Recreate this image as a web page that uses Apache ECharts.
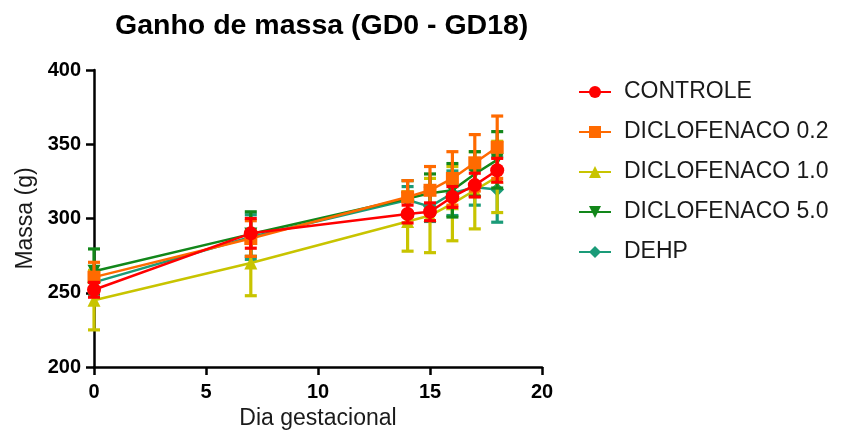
<!DOCTYPE html>
<html>
<head>
<meta charset="utf-8">
<script src="https://cdn.jsdelivr.net/npm/echarts@6/dist/echarts.min.js"></script>
<style>html,body{margin:0;padding:0;background:#fff}#c{width:842px;height:438px}</style>
</head>
<body>
<div id="c"></div>
<script>
const days = [0, 7, 14, 15, 16, 17, 18];
const seriesNames = ['CONTROLE', 'DICLOFENACO 0.2', 'DICLOFENACO 1.0', 'DICLOFENACO 5.0', 'DEHP'];
const controle = [252, 290, 303, 304.5, 314.5, 322.5, 332.5];
const controleSD = [5, 10, 6, 6, 7, 8, 8];
const diclo02 = [260.5, 286.5, 314.5, 319, 327, 337.5, 348];
const diclo02SD = [10, 12, 11, 16, 18, 19, 21];
const diclo10 = [245, 270, 298, 302, 310, 319, 328];
const diclo10SD = [20, 22, 20, 25, 25, 26, 24];
const diclo50 = [264.5, 289.5, 313.5, 317, 319, 330, 339.5];
const diclo50SD = [15, 15, 12, 13, 18, 15, 19];
const dehp = [257, 287.5, 312.5, 308, 317, 321, 319.5];
const dehpSD = [8, 15, 9, 10, 15, 12, 22];

const values = [controle, diclo02, diclo10, diclo50, dehp];
const sds = [controleSD, diclo02SD, diclo10SD, diclo50SD, dehpSD];
const colors = ['#ff0000', '#ff6a00', '#c8c400', '#12871a', '#1a9b78'];
const symbols = ['circle', 'rect', 'triangle', 'path://M0,0L2,0L1,1.732Z', 'diamond'];
const zs = [10, 9, 7, 8, 6];
const FONT = "'Liberation Sans', Arial, sans-serif";

const series = [];
seriesNames.forEach((name, k) => {
  series.push({
    name: name + ' err',
    type: 'custom',
    z: zs[k],
    data: days.map((d, i) => [d, values[k][i], sds[k][i]]),
    encode: { x: 0, y: 1 },
    renderItem: function (params, api) {
      const x = api.value(0), y = api.value(1), e = api.value(2);
      const t = api.coord([x, y + e]);
      const b = api.coord([x, y - e]);
      const hw = 6;
      const st = { stroke: colors[k], lineWidth: 3.2, fill: null };
      return {
        type: 'group',
        children: [
          { type: 'line', shape: { x1: t[0], y1: t[1], x2: b[0], y2: b[1] }, style: st },
          { type: 'line', shape: { x1: t[0] - hw, y1: t[1], x2: t[0] + hw, y2: t[1] }, style: st },
          { type: 'line', shape: { x1: b[0] - hw, y1: b[1], x2: b[0] + hw, y2: b[1] }, style: st }
        ]
      };
    }
  });
  series.push({
    name: name,
    type: 'line',
    z: zs[k] + 0.5,
    data: days.map((d, i) => [d, values[k][i]]),
    symbol: symbols[k],
    symbolSize: k === 0 ? 14 : (k === 4 ? 14 : 13),
    showSymbol: true,
    itemStyle: { color: colors[k] },
    lineStyle: { color: colors[k], width: 2.5 },
    emphasis: { disabled: true }
  });
});

const chart = echarts.init(document.getElementById('c'), null, { renderer: 'canvas' });
chart.setOption({
  animation: false,
  backgroundColor: '#ffffff',
  title: {
    text: 'Ganho de massa (GD0 - GD18)',
    left: 115, top: 12, padding: 0,
    textStyle: { fontFamily: FONT, fontSize: 28.5, fontWeight: 'bold', color: '#000' }
  },
  legend: {
    data: seriesNames,
    orient: 'vertical',
    left: 573, top: 75,
    itemWidth: 32, itemHeight: 15,
    itemGap: 16,
    textStyle: { fontFamily: FONT, fontSize: 23, color: '#1a1a1a', lineHeight: 24, padding: [0, 0, 0, 8] }
  },
  grid: { left: 94, right: 300, top: 70, bottom: 71, containLabel: false },
  xAxis: {
    type: 'value', min: 0, max: 20, interval: 5,
    name: 'Dia gestacional', nameLocation: 'middle', nameGap: 40,
    nameTextStyle: { fontFamily: FONT, fontSize: 23, color: '#1a1a1a' },
    axisLine: { show: true, lineStyle: { color: '#000', width: 2.5 } },
    axisTick: { show: true, length: 8, lineStyle: { color: '#000', width: 2.5 } },
    axisLabel: { fontFamily: FONT, fontSize: 20, fontWeight: 'bold', color: '#000', margin: 15 },
    splitLine: { show: false }
  },
  yAxis: {
    type: 'value', min: 200, max: 400, interval: 50,
    name: 'Massa (g)', nameLocation: 'middle', nameGap: 57, nameRotate: 90,
    nameTextStyle: { fontFamily: FONT, fontSize: 23, color: '#1a1a1a' },
    axisLine: { show: true, lineStyle: { color: '#000', width: 2.5 } },
    axisTick: { show: true, length: 8, lineStyle: { color: '#000', width: 2.5 } },
    axisLabel: { fontFamily: FONT, fontSize: 20, fontWeight: 'bold', color: '#000', margin: 13 },
    splitLine: { show: false }
  },
  series: series
});
</script>
</body>
</html>
